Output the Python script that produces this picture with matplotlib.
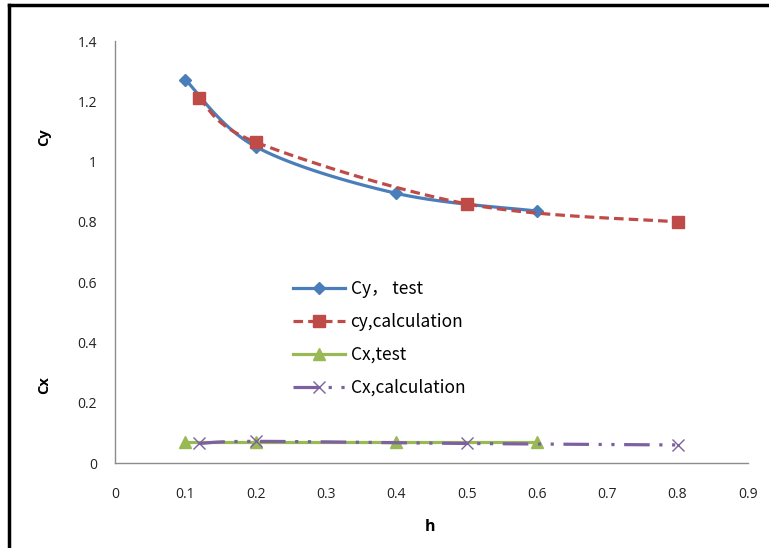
import numpy as np
import matplotlib
matplotlib.use("Agg")
import matplotlib.pyplot as plt
from matplotlib.lines import Line2D

# data
h_cy_test = [0.1, 0.2, 0.4, 0.6]
cy_test = [1.272, 1.05, 0.895, 0.836]
h_cy_calc = [0.12, 0.2, 0.5, 0.8]
cy_calc = [1.21, 1.065, 0.86, 0.80]
h_cx_test = [0.1, 0.2, 0.4, 0.6]
cx_test = [0.07, 0.07, 0.07, 0.07]
h_cx_calc = [0.12, 0.2, 0.5, 0.8]
cx_calc = [0.065, 0.072, 0.065, 0.06]

x_ticks = [0, 0.1, 0.2, 0.3, 0.4, 0.5, 0.6, 0.7, 0.8, 0.9]
y_ticks = [0, 0.2, 0.4, 0.6, 0.8, 1, 1.2, 1.4]

BLUE = "#4a7ebb"
RED = "#be4b48"
GREEN = "#98b954"
PURPLE = "#7d60a0"


def smooth(xs, ys, n=40):
    """Catmull-Rom style smoothing, roughly what Excel does for smoothed lines"""
    p = np.column_stack([xs, ys]).astype(float)
    p = np.vstack([p[0], p, p[-1]])
    out = []
    for i in range(1, len(p) - 2):
        p0, p1, p2, p3 = p[i - 1], p[i], p[i + 1], p[i + 2]
        t = np.linspace(0, 1, n)[:, None]
        seg = 0.5 * ((2 * p1) + (-p0 + p2) * t
                     + (2 * p0 - 5 * p1 + 4 * p2 - p3) * t ** 2
                     + (-p0 + 3 * p1 - 3 * p2 + p3) * t ** 3)
        out.append(seg)
    out = np.vstack(out)
    return out[:, 0], out[:, 1]


plt.rcParams['font.family'] = ['Open Sans', 'DejaVu Sans']

fig = plt.figure(figsize=(7.69, 5.48), dpi=100)
ax = fig.add_axes([0.1495, 0.155, 0.823, 0.77])

sx, sy = smooth(h_cy_test, cy_test)
ax.plot(sx, sy, color=BLUE, lw=2.3, solid_capstyle='round')
ax.plot(h_cy_test, cy_test, ls='none', marker='D', ms=6, color=BLUE)

sx, sy = smooth(h_cy_calc, cy_calc)
ax.plot(sx, sy, color=RED, lw=2.3, ls=(0, (3, 1.6)))
ax.plot(h_cy_calc, cy_calc, ls='none', marker='s', ms=9, color=RED)

sx, sy = smooth(h_cx_test, cx_test)
ax.plot(sx, sy, color=GREEN, lw=2.3)
ax.plot(h_cx_test, cx_test, ls='none', marker='^', ms=8, color=GREEN)

sx, sy = smooth(h_cx_calc, cx_calc)
ax.plot(sx, sy, color=PURPLE, lw=2.3, ls=(0, (8, 3, 1, 3, 1, 3)))
ax.plot(h_cx_calc, cx_calc, ls='none', marker='x', ms=9, mew=1, color=PURPLE)

ax.set_xlim(0, 0.9)
ax.set_ylim(0, 1.4)
ax.set_xticks(x_ticks)
ax.set_xticklabels([f"{v:g}" for v in x_ticks])
ax.set_yticks(y_ticks)
ax.set_yticklabels([f"{v:g}" for v in y_ticks])
ax.tick_params(length=0, labelsize=10, colors='#222222')
ax.tick_params(axis='x', pad=17)
ax.tick_params(axis='y', pad=13)
for s in ['top', 'right']:
    ax.spines[s].set_visible(False)
for s in ['left', 'bottom']:
    ax.spines[s].set_color('#8c8c8c')
    ax.spines[s].set_linewidth(1)

handles = [
    Line2D([], [], color=BLUE, lw=2.3, marker='D', ms=6),
    Line2D([], [], color=RED, lw=2.3, ls=(0, (3, 1.6)), marker='s', ms=9),
    Line2D([], [], color=GREEN, lw=2.3, marker='^', ms=8),
    Line2D([], [], color=PURPLE, lw=2.3, ls=(0, (8, 3, 1, 3, 1, 3)), marker='x', ms=9, mew=1),
]
labels = ["Cy\uff0c test", "cy,calculation", "Cx,test", "Cx,calculation"]
ax.legend(handles, labels, loc='upper left', bbox_to_anchor=(0.257, 0.47),
          frameon=False, handlelength=3, labelspacing=0.85,
          handletextpad=0.3, prop={'family': ['Noto Sans CJK SC', 'DejaVu Sans'], 'size': 12.5})

fig.text(44 / 769, 1 - 137 / 548, "Cy", rotation=90, ha='center', va='center',
         fontsize=10.5, fontweight='bold')
fig.text(44 / 769, 1 - 385 / 548, "Cx", rotation=90, ha='center', va='center',
         fontsize=10.5, fontweight='bold')
fig.text(430 / 769, 1 - 527 / 548, "h", ha='center', va='center',
         fontsize=11.5, fontweight='bold')

# page frame visible on the left and top
fig.add_artist(Line2D([9 / 769, 9 / 769], [0, 1 - 5 / 548], color='black', lw=2.5,
                      transform=fig.transFigure))
fig.add_artist(Line2D([9 / 769, 1], [1 - 5 / 548, 1 - 5 / 548], color='black', lw=2.5,
                      transform=fig.transFigure))

fig.savefig("out.png", dpi=100)
